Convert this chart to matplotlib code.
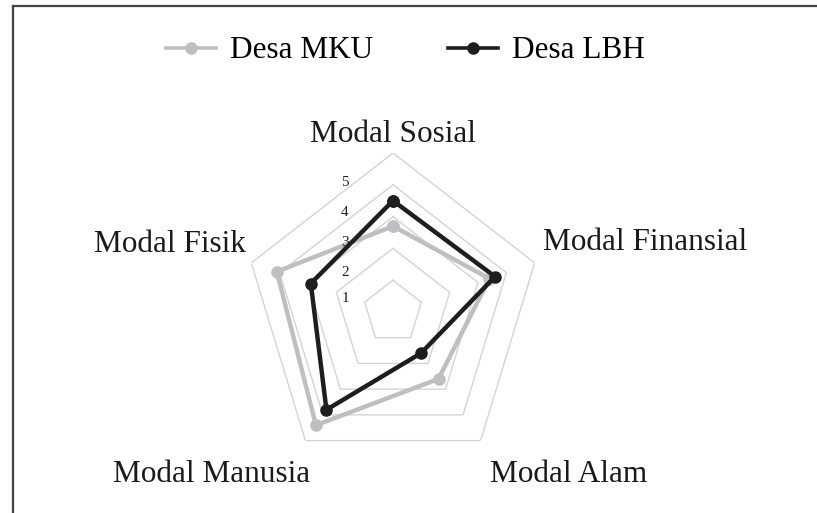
import numpy as np
import matplotlib
matplotlib.use("Agg")
import matplotlib.pyplot as plt
from matplotlib.lines import Line2D

# data (scale 0-5)
categories = ['Modal Sosial', 'Modal Finansial', 'Modal Alam', 'Modal Manusia', 'Modal Fisik']
desa_mku = [2.7, 3.4, 2.6, 4.4, 4.1]
desa_lbh = [3.5, 3.6, 1.6, 3.8, 2.9]
ring_values = [1, 2, 3, 4, 5]
ring_labels = ['1', '2', '3', '4', '5']

plt.rcParams['font.family'] = ['Liberation Serif', 'DejaVu Serif']

W, H = 817, 513
fig = plt.figure(figsize=(W / 100, H / 100), dpi=100)

# polar axes, stretched slightly vertically like the original
ax = fig.add_axes([244 / W, 1 - 471 / H, 298 / W, 318 / H], projection='polar')
ax.set_aspect('auto')
ax.set_theta_offset(np.pi / 2)
ax.set_theta_direction(-1)
ax.set_ylim(0, 5)
ax.axis('off')

n = len(categories)
angles = np.linspace(0, 2 * np.pi, n, endpoint=False)
closed = np.append(angles, angles[0])

# pentagon grid
for rv in ring_values:
    ax.plot(closed, [rv] * (n + 1), color='#d4d4d4', lw=1.0, zorder=1)

ax.plot(closed, desa_mku + desa_mku[:1], color='#bfbfc1', lw=3.2,
        marker='o', markersize=8, zorder=3)
ax.plot(closed, desa_lbh + desa_lbh[:1], color='#1e1e1e', lw=3.2,
        marker='o', markersize=8, zorder=4)

# scale labels (placed left of the top axis, as in the original)
label_y = [298, 273, 242, 213, 183]
for lab, py in zip(ring_labels, label_y):
    fig.text(345 / W, 1 - py / H, lab, fontsize=11, ha='center', va='center', color='#222222')

# category labels
cat_pos = [(393, 135), (645, 242), (569, 474), (212, 474), (170, 244)]
for name, (px, py) in zip(categories, cat_pos):
    fig.text(px / W, 1 - py / H, name, fontsize=22.5, ha='center', va='center', color='#1a1a1a')

# legend
handles = [
    Line2D([], [], color='#bfbfc1', lw=2.6, marker='o', markersize=8),
    Line2D([], [], color='#1e1e1e', lw=2.6, marker='o', markersize=8),
]
fig.legend(handles, ['Desa MKU', 'Desa LBH'], loc='center', ncol=2,
           bbox_to_anchor=(405 / W, 1 - 51 / H), frameon=False,
           fontsize=22.5, handlelength=1.6, handletextpad=0.45, columnspacing=2.4)

# frame lines at left and top
fig.add_artist(Line2D([13 / W, 13 / W], [0, 1 - 6 / H], color='#444444', lw=1.6,
                      transform=fig.transFigure))
fig.add_artist(Line2D([13 / W, 1], [1 - 6 / H, 1 - 6 / H], color='#444444', lw=1.6,
                      transform=fig.transFigure))

fig.savefig('out.png', dpi=100)
